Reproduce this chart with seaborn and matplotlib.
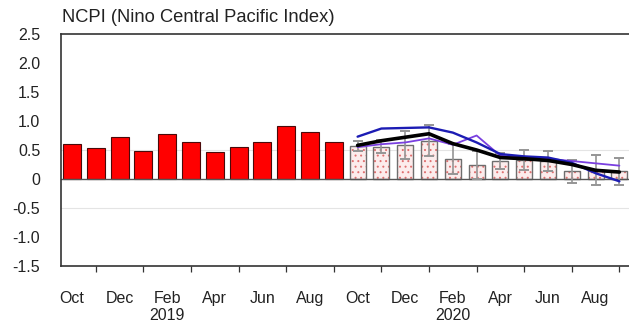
import numpy as np
import pandas as pd
import matplotlib
matplotlib.use("Agg")
import matplotlib.pyplot as plt
from matplotlib.colors import to_rgba
import seaborn as sns

# Months on the time axis (Oct 2018 .. Sep 2020)
months = ["2018-10", "2018-11", "2018-12", "2019-01", "2019-02", "2019-03",
          "2019-04", "2019-05", "2019-06", "2019-07", "2019-08", "2019-09",
          "2019-10", "2019-11", "2019-12", "2020-01", "2020-02", "2020-03",
          "2020-04", "2020-05", "2020-06", "2020-07", "2020-08", "2020-09"]

# Observed monthly index (Oct 2018 .. Sep 2019)
observed = [0.61, 0.54, 0.72, 0.49, 0.77, 0.63, 0.47, 0.56, 0.64, 0.91, 0.81, 0.64]

# Forecast ensemble mean bars and spread (Oct 2019 .. Sep 2020)
forecast = [0.57, 0.56, 0.58, 0.66, 0.34, 0.24, 0.31, 0.33, 0.31, 0.13, 0.15, 0.13]
spread = [0.08, 0.12, 0.24, 0.27, 0.26, 0.24, 0.13, 0.17, 0.18, 0.20, 0.26, 0.23]

# Individual forecast runs
run_black = [0.58, 0.66, 0.72, 0.78, 0.61, 0.50, 0.37, 0.35, 0.32, 0.25, 0.15, 0.12]
run_blue = [0.73, 0.87, 0.88, 0.89, 0.80, 0.63, 0.43, 0.39, 0.37, 0.28, 0.10, -0.04]
run_purple = [0.55, 0.60, 0.63, 0.70, 0.59, 0.75, 0.40, 0.37, 0.35, 0.31, 0.27, 0.23]

tick_labels = ["Oct", "Dec", "Feb\n2019", "Apr", "Jun", "Aug",
               "Oct", "Dec", "Feb\n2020", "Apr", "Jun", "Aug"]
title = "NCPI (Nino Central Pacific Index)"

sns.set_theme(style="white")
plt.rcParams["font.family"] = ["Liberation Sans", "DejaVu Sans"]
plt.rcParams["hatch.linewidth"] = 0.7

W, H = 629, 326
fig = plt.figure(figsize=(W / 100, H / 100), dpi=100)
ax = fig.add_axes([61 / W, 1 - 266 / H, (629 - 61) / W, (266 - 34) / H])

n_obs = len(observed)
obs_df = pd.DataFrame({"month": months[:n_obs], "value": observed})
fc_df = pd.DataFrame({"month": months[n_obs:], "value": forecast})

sns.barplot(data=obs_df, x="month", y="value", order=months, ax=ax,
            color="#ff0000", width=0.76, saturation=1, errorbar=None)
n_red = len(ax.patches)
for p in ax.patches:
    p.set_edgecolor("#4a0a0a")
    p.set_linewidth(0.8)

sns.barplot(data=fc_df, x="month", y="value", order=months, ax=ax,
            color="#fcecec", width=0.68, saturation=1, errorbar=None)
for p in ax.patches[n_red:]:
    p.set_edgecolor("#6e6e6e")
    p.set_linewidth(1.0)
    p.set_hatch("...")
    p._hatch_color = to_rgba("#e07070")

xf = np.arange(n_obs, len(months))
ax.errorbar(xf, forecast, yerr=spread, fmt="none", ecolor="#959595",
            elinewidth=1.2, capsize=3.6, capthick=1.4, zorder=3)

runs = pd.DataFrame({"x": np.tile(xf, 3),
                     "value": run_black + run_blue + run_purple,
                     "run": ["a"] * 12 + ["b"] * 12 + ["c"] * 12})
sns.lineplot(data=runs[runs.run == "c"], x="x", y="value", ax=ax,
             color="#7a3fe0", linewidth=1.3, zorder=4)
sns.lineplot(data=runs[runs.run == "b"], x="x", y="value", ax=ax,
             color="#1c1cb4", linewidth=1.7, zorder=5)
sns.lineplot(data=runs[runs.run == "a"], x="x", y="value", ax=ax,
             color="#000000", linewidth=2.6, zorder=6)

# Reference lines
ax.axhline(0, color="#555555", linewidth=1.0, zorder=2)
for yv in (0.5, -0.5):
    ax.axhline(yv, color="#e4e4e4", linewidth=0.8, zorder=0)

ax.set_xlim(-(72 - 61) / 23.8, (629 - 72) / 23.8)
ax.set_ylim(-1.5, 2.5)
yt = [-1.5, -1.0, -0.5, 0, 0.5, 1.0, 1.5, 2.0, 2.5]
ax.set_yticks(yt)
ax.set_yticklabels(["0" if v == 0 else f"{v:.1f}" for v in yt])
ax.set_xticks(np.arange(0, len(months), 2))
ax.set_xticklabels(tick_labels)
ax.set_xticks(np.arange(0, len(months)), minor=True)
ax.set_xlabel("")
ax.set_ylabel("")

for s in ("top", "left", "bottom"):
    ax.spines[s].set_color("#333333")
    ax.spines[s].set_linewidth(1.2)
ax.spines["right"].set_visible(False)

ax.tick_params(axis="both", which="major", direction="out", length=9,
               width=1.1, color="#333333", labelsize=11.5, labelcolor="#222222")
ax.tick_params(axis="y", pad=6)
ax.tick_params(axis="x", pad=9)
ax.tick_params(axis="x", which="minor", direction="out", length=4.5,
               width=0.9, color="#333333", bottom=True)
for lbl in ax.get_xticklabels():
    lbl.set_linespacing(1.15)

leg = ax.get_legend()
if leg is not None:
    leg.remove()

fig.text(62 / W, 1 - 17 / H, title, fontsize=13.2, color="#222222",
         ha="left", va="center")

fig.savefig("out.png", dpi=100)
